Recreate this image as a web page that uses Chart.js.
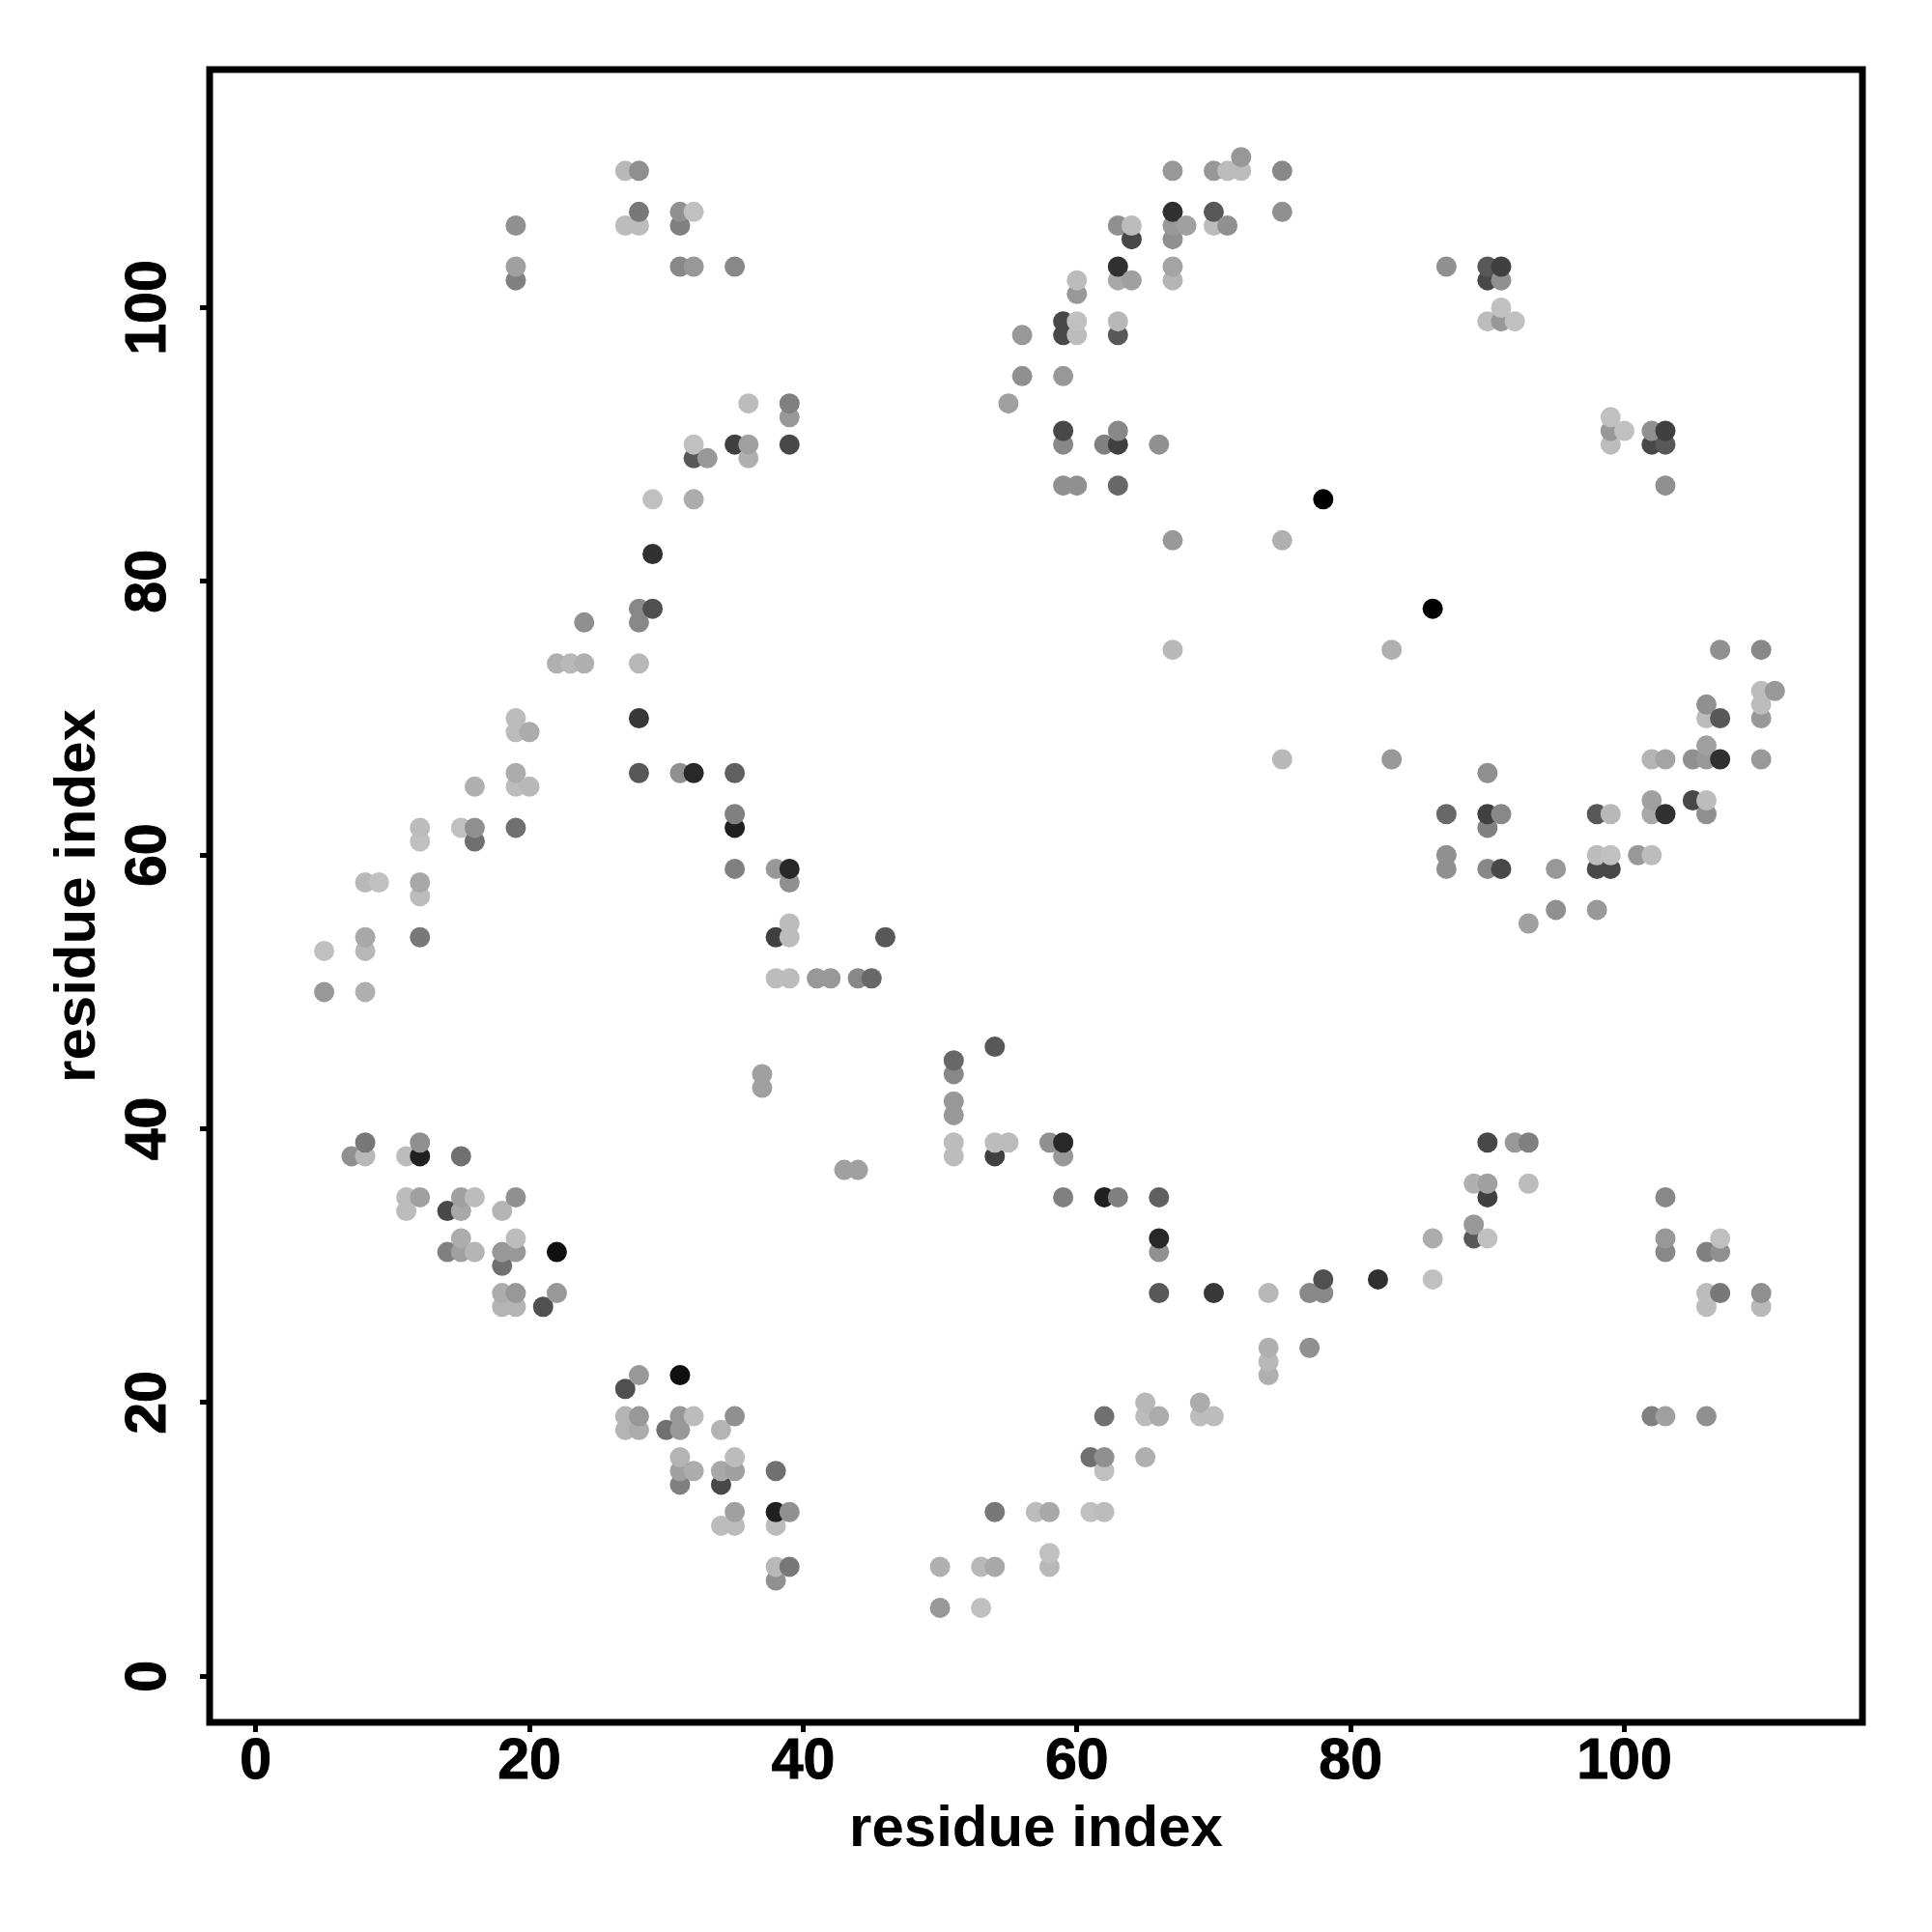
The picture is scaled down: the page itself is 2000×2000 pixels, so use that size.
<!DOCTYPE html>
<html lang="en">
<head>
  <meta charset="UTF-8">
  <title>residue contacts</title>
  <script src="https://cdn.jsdelivr.net/npm/chart.js"></script>
  <style>
    html, body { margin: 0; padding: 0; background: #fff; }
    canvas { display: block; }
  </style>
</head>
<body>
  <canvas id="contactChart" width="2000" height="2000"></canvas>
  <script>
    // contact pairs, one triangle only: the map is symmetric so each pair is drawn twice
    const residueI = [
      5, 5, 7, 8, 8, 8, 8, 8, 8, 9,
      11, 11, 11, 12, 12, 12, 12, 12, 12, 12, 12,
      14, 14, 15, 15, 15, 15, 15, 15, 16, 16, 16, 16, 16,
      18, 18, 18, 18, 18, 19, 19, 19, 19, 19, 19, 19, 19, 19, 19, 19, 19, 19,
      20, 20, 21, 22, 22, 22, 23, 24, 24, 27, 27,
      28, 28, 28, 28, 28, 28, 28, 28, 29, 29, 29, 31, 31, 31, 31,
      32, 32, 32, 32, 32, 32, 33, 35, 35, 35, 35, 35, 35,
      36, 36, 36, 37, 37, 38, 38, 38, 39, 39, 39, 39, 39, 39, 39, 39,
      41, 42, 44, 45, 46, 55, 56, 56,
      59, 59, 59, 59, 59, 59, 60, 60, 60, 60, 60, 62,
      63, 63, 63, 63, 63, 63, 63, 63, 64, 64, 64, 66,
      67, 67, 67, 67, 67, 67, 67, 67, 68, 70, 70, 70, 71, 71, 72, 72,
      75, 75, 75, 78, 87, 90, 90, 90, 91, 91, 91, 91, 92
    ];
    const residueJ = [
      50, 53, 38, 38, 39, 50, 53, 54, 58, 58,
      34, 35, 38, 35, 38, 39, 54, 57, 58, 61, 62,
      31, 34, 31, 32, 34, 35, 38, 62, 31, 35, 61, 62, 65,
      27, 28, 30, 31, 34, 27, 28, 31, 32, 35, 62, 65, 66, 69, 70, 102, 103, 106,
      65, 69, 27, 28, 31, 74, 74, 74, 77, 106, 110,
      66, 70, 74, 77, 78, 106, 107, 110, 78, 82, 86, 66, 103, 106, 107,
      66, 86, 89, 90, 103, 107, 89, 59, 62, 63, 66, 90, 103,
      89, 90, 93, 43, 44, 51, 54, 59, 51, 54, 55, 58, 59, 90, 92, 93,
      51, 51, 51, 51, 54, 93, 95, 98,
      87, 90, 91, 95, 98, 99, 87, 98, 99, 101, 102, 90,
      87, 90, 91, 98, 99, 102, 103, 106, 102, 105, 106, 90,
      75, 83, 102, 103, 105, 106, 107, 110, 106, 106, 107, 110, 106, 110, 110, 111,
      83, 107, 110, 86, 103, 99, 102, 103, 99, 100, 102, 103, 99
    ];
    // grey level of each pair, 0 black .. 255 white
    const shade = [
      152, 192, 144, 184, 120, 176, 184, 168, 184, 192,
      188, 188, 188, 160, 32, 144, 120, 188, 168, 192, 188,
      128, 72, 160, 172, 168, 160, 112, 192, 180, 188, 112, 144, 176,
      180, 172, 112, 152, 180, 180, 152, 152, 188, 144, 112, 188, 172, 188, 188, 128, 160, 144,
      184, 172, 80, 152, 16, 176, 184, 176, 144, 188, 184,
      88, 56, 184, 136, 136, 188, 120, 143, 80, 48, 192, 144, 136, 128, 144,
      40, 172, 88, 192, 152, 192, 152, 128, 32, 128, 96, 64, 136,
      176, 160, 188, 160, 160, 188, 64, 152, 188, 188, 188, 144, 40, 72, 152, 128,
      152, 152, 136, 104, 88, 160, 144, 152,
      144, 136, 72, 152, 72, 72, 144, 188, 192, 152, 188, 128,
      104, 64, 136, 88, 184, 168, 48, 144, 160, 72, 188, 144,
      184, 152, 180, 164, 144, 152, 48, 152, 160, 188, 88, 152, 144, 188, 188, 152,
      176, 144, 136, 0, 144, 188, 72, 88, 152, 192, 144, 64, 192
    ];
    const tickValues = [0, 20, 40, 60, 80, 100];
    const axisTitle = "residue index";

    const axisFont = '"Liberation Sans", Arial, sans-serif';

    // both triangles, column by column like the original matrix plot
    const contacts = [];
    residueI.forEach((r, k) => {
      contacts.push({ x: r, y: residueJ[k], g: shade[k] });
      contacts.push({ x: residueJ[k], y: r, g: shade[k] });
    });
    contacts.sort((a, b) => a.x - b.x || a.y - b.y);

    function fixTicks(scale) {
      scale.ticks = tickValues.map(v => ({ value: v, label: String(v) }));
    }

    // frame all round + y tick labels turned 90deg like base R
    const framePlugin = {
      id: "frame",
      afterDraw(chart) {
        const { ctx, chartArea: a, scales } = chart;
        ctx.save();
        ctx.strokeStyle = "#000";
        ctx.lineWidth = 7;
        ctx.strokeRect(a.left, a.top, a.right - a.left, a.bottom - a.top);
        ctx.fillStyle = "#000";
        ctx.font = "bold 59px " + axisFont;
        ctx.textAlign = "center";
        ctx.textBaseline = "alphabetic";
        ctx.lineWidth = 1;
        tickValues.forEach(v => {
          ctx.save();
          ctx.translate(171, scales.y.getPixelForValue(v));
          ctx.rotate(-Math.PI / 2);
          ctx.fillText(String(v), 0, 0);
          ctx.strokeText(String(v), 0, 0);
          ctx.restore();
        });
        ctx.restore();
      }
    };

    function axisOptions(isY) {
      const titleGap = isY ? 45 : 70;
      return {
        type: "linear",
        min: -3.37,
        max: 117.4,
        afterBuildTicks: fixTicks,
        afterFit(scale) {
          if (isY) scale.width = 217;
          else scale.height = 217;
        },
        grid: {
          drawOnChartArea: false,
          drawTicks: true,
          tickLength: 10,
          tickWidth: 5,
          tickColor: "#000"
        },
        border: { display: false },
        ticks: {
          display: !isY,
          autoSkip: false,
          maxRotation: 0,
          color: "#000",
          padding: -4,
          textStrokeColor: "#000",
          textStrokeWidth: 1,
          font: { family: axisFont, size: 59, weight: "bold" }
        },
        title: {
          display: true,
          text: axisTitle,
          color: "#000",
          font: { family: axisFont, size: 60, weight: "bold" },
          padding: { top: titleGap, bottom: titleGap }
        }
      };
    }

    new Chart(document.getElementById("contactChart").getContext("2d"), {
      type: "scatter",
      data: {
        datasets: [{
          data: contacts,
          pointRadius: 10.5,
          pointBorderWidth: 0,
          pointBackgroundColor: contacts.map(c => `rgb(${c.g},${c.g},${c.g})`)
        }]
      },
      plugins: [framePlugin],
      options: {
        responsive: false,
        devicePixelRatio: 1,
        animation: false,
        layout: { padding: { left: 0, top: 72, right: 72, bottom: 0 } },
        plugins: { legend: { display: false }, title: { display: false }, tooltip: { enabled: false } },
        scales: { x: axisOptions(false), y: axisOptions(true) }
      }
    });
  </script>
</body>
</html>
